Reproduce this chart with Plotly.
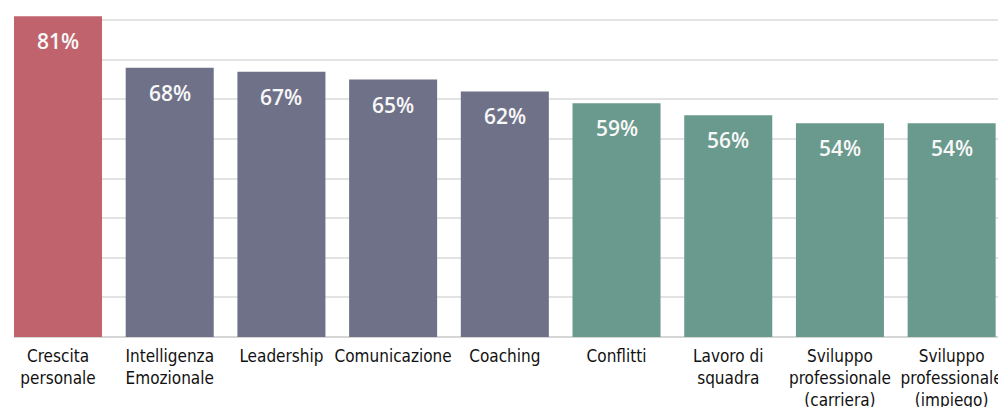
import plotly.graph_objects as go

categories = ["Crescita<br>personale", "Intelligenza<br>Emozionale", "Leadership", "Comunicazione",
              "Coaching", "Conflitti", "Lavoro di<br>squadra",
              "Sviluppo<br>professionale<br>(carriera)", "Sviluppo<br>professionale<br>(impiego)"]
values = [81, 68, 67, 65, 62, 59, 56, 54, 54]
labels = ["81%", "68%", "67%", "65%", "62%", "59%", "56%", "54%", "54%"]
groups = ["red", "gray", "gray", "gray", "gray", "teal", "teal", "teal", "teal"]
palette = {"red": "#C0636D", "gray": "#6F7189", "teal": "#6A998D"}

x = list(range(len(categories)))

fig = go.Figure()
fig.add_trace(go.Bar(
    x=x, y=values,
    marker=dict(color=[palette[g] for g in groups], line=dict(width=0)),
    hoverinfo="skip",
))

for xi, v, t in zip(x, values, labels):
    fig.add_annotation(x=xi, y=v, text=t, showarrow=False, yanchor="middle", yshift=-25,
                       font=dict(family="Open Sans", size=21, color="#F8F8F8", weight=600))

fig.update_layout(
    width=998, height=407,
    margin=dict(l=14, r=0, t=0, b=70),
    paper_bgcolor="white", plot_bgcolor="white",
    bargap=0.212,
    showlegend=False,
    xaxis=dict(range=[-0.394, 8.415], tickmode="array", tickvals=x, ticktext=categories,
               showgrid=False, showline=False, zeroline=False, ticks="",
               ticklabeloverflow="allow", ticklabelstandoff=7,
               tickfont=dict(family="Liberation Sans Narrow, DejaVu Sans Condensed", size=17, color="#111111"),
               tickangle=0, automargin=False),
    yaxis=dict(range=[0, 85.1], dtick=10, showticklabels=False, showgrid=True,
               gridcolor="#E3E3E3", gridwidth=1.5, zeroline=True, zerolinecolor="#D6D6D6",
               zerolinewidth=2, showline=False, automargin=False),
)

fig.write_html("out.html", config={"displayModeBar": False},
               post_script="document.body.style.margin='0';document.body.style.overflow='hidden';")
